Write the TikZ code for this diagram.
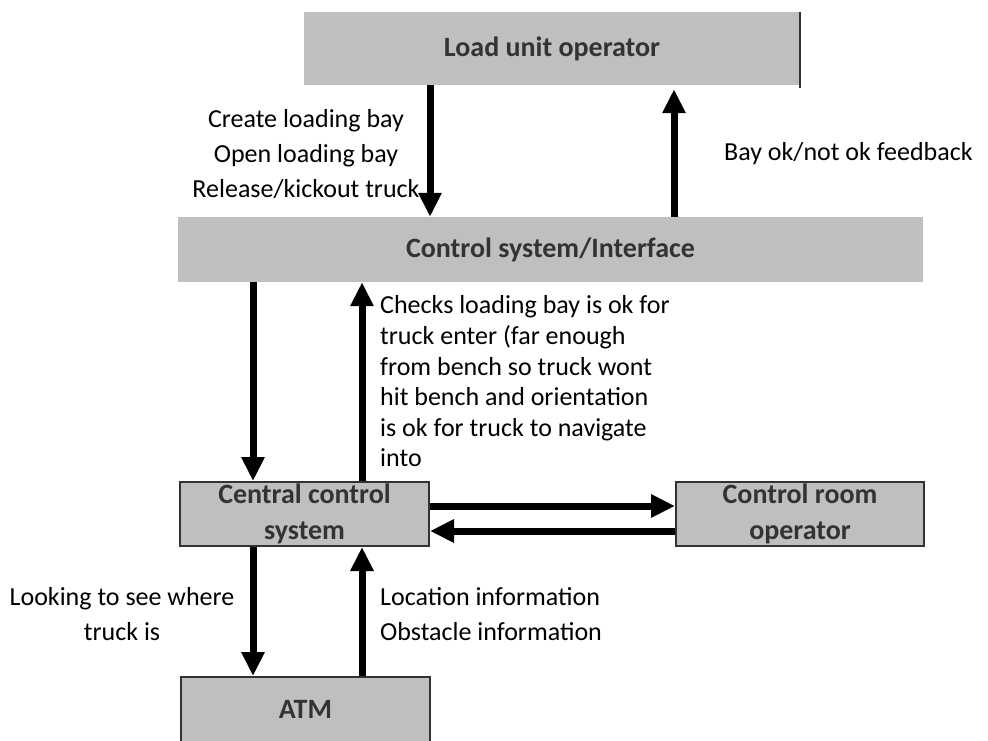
\documentclass[tikz,border=0pt]{standalone}
\usepackage{fontspec}
\setmainfont{Carlito}
\usepackage{xcolor}
\usetikzlibrary{arrows.meta}

\definecolor{boxgray}{RGB}{191,191,191}
\definecolor{edgegray}{RGB}{51,51,51}

\begin{document}
\begin{tikzpicture}[
    x=1pt, y=-1pt,
    font=\fontsize{26}{34.7}\selectfont,
    block/.style={
        fill=boxgray, inner sep=0pt, align=center,
        font=\fontsize{28}{36}\selectfont\bfseries, text=edgegray,
    },
    framed/.style={block, draw=edgegray, line width=2pt},
    note/.style={inner sep=0pt},
    flow/.style={-{Triangle[width=22pt,length=24pt]}, line width=7pt},
]
\useasboundingbox (0,0) rectangle (988,740);

% --- boxes ---
\node[block, minimum width=496pt, minimum height=73pt] (lu) at (552,48.5) {Load unit operator};
\draw[edgegray, line width=2pt] (lu.north east) -- ([yshift=-3pt]lu.south east);
\node[block, minimum width=745pt, minimum height=65pt] (csi) at (550.5,249.5) {Control system/Interface};
\node[framed, minimum width=249pt, minimum height=64pt] (ccs) at (304.5,514) {Central control\\system};
\node[framed, minimum width=248pt, minimum height=64pt] (cro) at (800,514) {Control room\\operator};
\node[framed, minimum width=249pt, minimum height=65pt] (atm) at (305.5,709.5) {ATM};

% --- labels ---
\node[note, align=center] (cmd) at (306,154) {Create loading bay\\Open loading bay\\Release/kickout truck};
\node[note, anchor=west] (fb) at (724,154) {Bay ok/not ok feedback};
\node[note, align=left, anchor=west, font=\fontsize{26}{30.6}\selectfont] (chk) at (380,381.5)
    {Checks loading bay is ok for\\truck enter (far enough\\from bench so truck wont\\hit bench and orientation\\is ok for truck to navigate\\into};
\node[note, align=center] (look) at (122,614) {Looking to see where\\truck is};
\node[note, align=left, anchor=west] (loc) at (380,614) {Location information\\Obstacle information};

% --- connectors ---
\coordinate (colA) at (430,0);
\coordinate (colB) at (674,0);
\coordinate (colC) at (253,0);
\coordinate (colD) at (362,0);
\coordinate (rowA) at (0,506);
\coordinate (rowB) at (0,531);

\draw[flow] (lu.south -| colA) -- (csi.north -| colA);
\draw[flow, shorten >=4pt] (csi.north -| colB) -- (lu.south -| colB);
\draw[flow] (csi.south -| colC) -- (ccs.north -| colC);
\draw[flow] (ccs.north -| colD) -- (csi.south -| colD);
\draw[flow] (ccs.east |- rowA) -- (cro.west |- rowA);
\draw[flow] (cro.west |- rowB) -- (ccs.east |- rowB);
\draw[flow] (ccs.south -| colC) -- (atm.north -| colC);
\draw[flow] (atm.north -| colD) -- (ccs.south -| colD);

\end{tikzpicture}
\end{document}
